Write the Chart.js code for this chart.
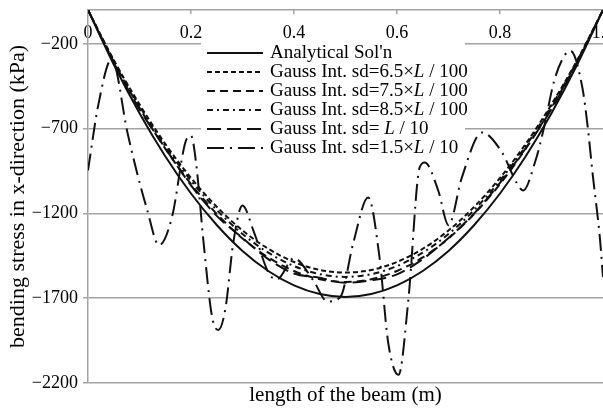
<!DOCTYPE html>
<html>
<head>
<meta charset="utf-8">
<script src="https://cdn.jsdelivr.net/npm/chart.js@4.4.1/dist/chart.umd.min.js"></script>
<style>
  html, body { margin: 0; padding: 0; background: #fff; }
  canvas { display: block; }
</style>
</head>
<body>
<canvas id="stress" width="603" height="408"></canvas>
<script>
// positions along the beam, shared by the smooth curves
const xGrid = [0, 0.05, 0.1, 0.15, 0.2, 0.25, 0.3, 0.35, 0.4, 0.45, 0.5,
  0.55, 0.6, 0.65, 0.7, 0.75, 0.8, 0.85, 0.9, 0.95, 1];

const analytical = [0, -322, -609, -863, -1083, -1269, -1422, -1540, -1625, -1676, -1693,
  -1676, -1625, -1540, -1422, -1269, -1083, -863, -609, -322, 0];
const sd65 = [0, -295, -557, -790, -991, -1161, -1301, -1409, -1487, -1534, -1549,
  -1534, -1487, -1409, -1301, -1161, -991, -790, -557, -295, 0];
const sd75 = [0, -305, -577, -818, -1027, -1203, -1348, -1460, -1540, -1589, -1605,
  -1589, -1540, -1460, -1348, -1203, -1027, -818, -577, -305, 0];
const sd85 = [0, -299, -566, -803, -1007, -1180, -1322, -1432, -1511, -1559, -1575,
  -1559, -1511, -1432, -1322, -1180, -1007, -803, -566, -299, 0];
const sdL10 = [0, -310, -585, -815, -1035, -1215, -1345, -1470, -1555, -1580, -1610,
  -1595, -1560, -1470, -1345, -1200, -1020, -815, -585, -310, 0];

// sd = 1.5 L/10 oscillates, so it has its own sample positions
const sd15X = [0, 0.02, 0.046, 0.077, 0.095, 0.114, 0.138, 0.163, 0.189, 0.2, 0.21,
  0.224, 0.241, 0.253, 0.267, 0.282, 0.3, 0.321, 0.351, 0.367, 0.4, 0.437, 0.465,
  0.49, 0.515, 0.544, 0.566, 0.583, 0.603, 0.622, 0.644, 0.654, 0.68, 0.7, 0.726,
  0.765, 0.804, 0.833, 0.845, 0.869, 0.885, 0.905, 0.925, 0.937, 0.96, 0.97, 0.98,
  0.994, 1];
const sd15Y = [-947, -560, -290, -729, -958, -1170, -1388, -1223, -782, -741, -906,
  -1359, -1812, -1888, -1759, -1376, -1153, -1300, -1553, -1590, -1465, -1594, -1720,
  -1694, -1376, -1106, -1459, -1965, -2153, -1712, -929, -900, -1065, -1270, -988,
  -723, -841, -1024, -1065, -888, -700, -420, -270, -241, -459, -682, -970,
  -1347, -1576];

const seriesNames = [
  "Analytical Sol'n",
  'Gauss Int. sd=6.5\u00d7L / 100',
  'Gauss Int. sd=7.5\u00d7L / 100',
  'Gauss Int. sd=8.5\u00d7L / 100',
  'Gauss Int. sd= L / 10',
  'Gauss Int. sd=1.5\u00d7L / 10'
];

const xTicks = [0, 0.2, 0.4, 0.6, 0.8, 1];
const yTicks = [-2200, -1700, -1200, -700, -200];

const FONT = "'Liberation Serif', 'Times New Roman', serif";
const GRID = '#a3a3a3';
const INK = '#111';

const toPoints = (xs, ys) => xs.map((x, i) => ({ x, y: ys[i] }));

function lineSet(label, points, dash) {
  return {
    label,
    data: points,
    borderColor: INK,
    borderWidth: 2,
    borderDash: dash,
    pointRadius: 0,
    fill: false,
    cubicInterpolationMode: 'monotone'
  };
}

// legend drawn as a white box over the plot, with the italic L in the labels
const boxLegend = {
  id: 'boxLegend',
  afterDatasetsDraw(chart) {
    const { ctx, chartArea } = chart;
    const left = chartArea.left + 113;
    const top = chartArea.top + 32;
    ctx.save();
    ctx.fillStyle = '#fff';
    ctx.fillRect(left, top, 264, 117);
    chart.data.datasets.forEach((ds, i) => {
      const y = top + 11 + i * 19;
      ctx.strokeStyle = ds.borderColor;
      ctx.lineWidth = ds.borderWidth;
      ctx.setLineDash(ds.borderDash || []);
      ctx.beginPath();
      ctx.moveTo(left + 6, y);
      ctx.lineTo(left + 62, y);
      ctx.stroke();

      ctx.setLineDash([]);
      ctx.fillStyle = '#000';
      ctx.textBaseline = 'middle';
      let x = left + 69;
      const parts = ds.label.split('L');
      parts.forEach((part, k) => {
        ctx.font = '19px ' + FONT;
        ctx.fillText(part, x, y);
        x += ctx.measureText(part).width;
        if (k < parts.length - 1) {
          ctx.font = 'italic 19px ' + FONT;
          ctx.fillText('L', x, y);
          x += ctx.measureText('L').width;
        }
      });
    });
    ctx.restore();
  }
};

new Chart(document.getElementById('stress'), {
  type: 'line',
  data: {
    datasets: [
      lineSet(seriesNames[0], toPoints(xGrid, analytical), []),
      lineSet(seriesNames[1], toPoints(xGrid, sd65), [5, 3]),
      lineSet(seriesNames[2], toPoints(xGrid, sd75), [8, 5]),
      lineSet(seriesNames[3], toPoints(xGrid, sd85), [6, 4, 2, 4]),
      lineSet(seriesNames[4], toPoints(xGrid, sdL10), [14, 6]),
      lineSet(seriesNames[5], toPoints(sd15X, sd15Y), [17, 6, 2, 6])
    ]
  },
  options: {
    responsive: false,
    animation: false,
    layout: { padding: 0 },
    scales: {
      x: {
        type: 'linear',
        position: 'top',
        min: 0,
        max: 1,
        afterBuildTicks: (s) => { s.ticks = xTicks.map(v => ({ value: v })); },
        afterFit: (s) => {
          s.height = 10;
          s.paddingLeft = 0;
          s.paddingRight = 0;
        },
        grid: { drawOnChartArea: false, drawTicks: true, tickLength: -4, color: GRID, lineWidth: 1.5 },
        border: { color: GRID, width: 1.5 },
        // mirrored so the labels sit just inside the plot, below the top edge
        ticks: {
          mirror: true,
          padding: 12,
          autoSkip: false,
          maxRotation: 0,
          color: '#000',
          font: { family: FONT, size: 18 }
        }
      },
      y: {
        min: -2200,
        max: 0,
        afterBuildTicks: (s) => { s.ticks = yTicks.map(v => ({ value: v })); },
        afterFit: (s) => {
          s.width = 88;
          s.paddingTop = 0;
          s.paddingBottom = 0;
        },
        grid: { color: GRID, lineWidth: 1.5, tickLength: 5 },
        border: { color: GRID, width: 1.5 },
        ticks: {
          padding: 5,
          color: '#000',
          font: { family: FONT, size: 18 },
          callback: (v) => (v < 0 ? '\u2212' + Math.abs(v) : String(v))
        },
        title: {
          display: true,
          text: 'bending stress in x-direction (kPa)',
          color: '#000',
          font: { family: FONT, size: 22 },
          padding: { top: 5, bottom: 0 }
        }
      }
    },
    plugins: {
      legend: { display: false },
      tooltip: { enabled: false },
      title: {
        display: true,
        position: 'bottom',
        fullSize: false,
        text: 'length of the beam (m)',
        color: '#000',
        font: { family: FONT, size: 21, weight: 'normal' },
        padding: 0
      }
    }
  },
  plugins: [boxLegend]
});
</script>
</body>
</html>
